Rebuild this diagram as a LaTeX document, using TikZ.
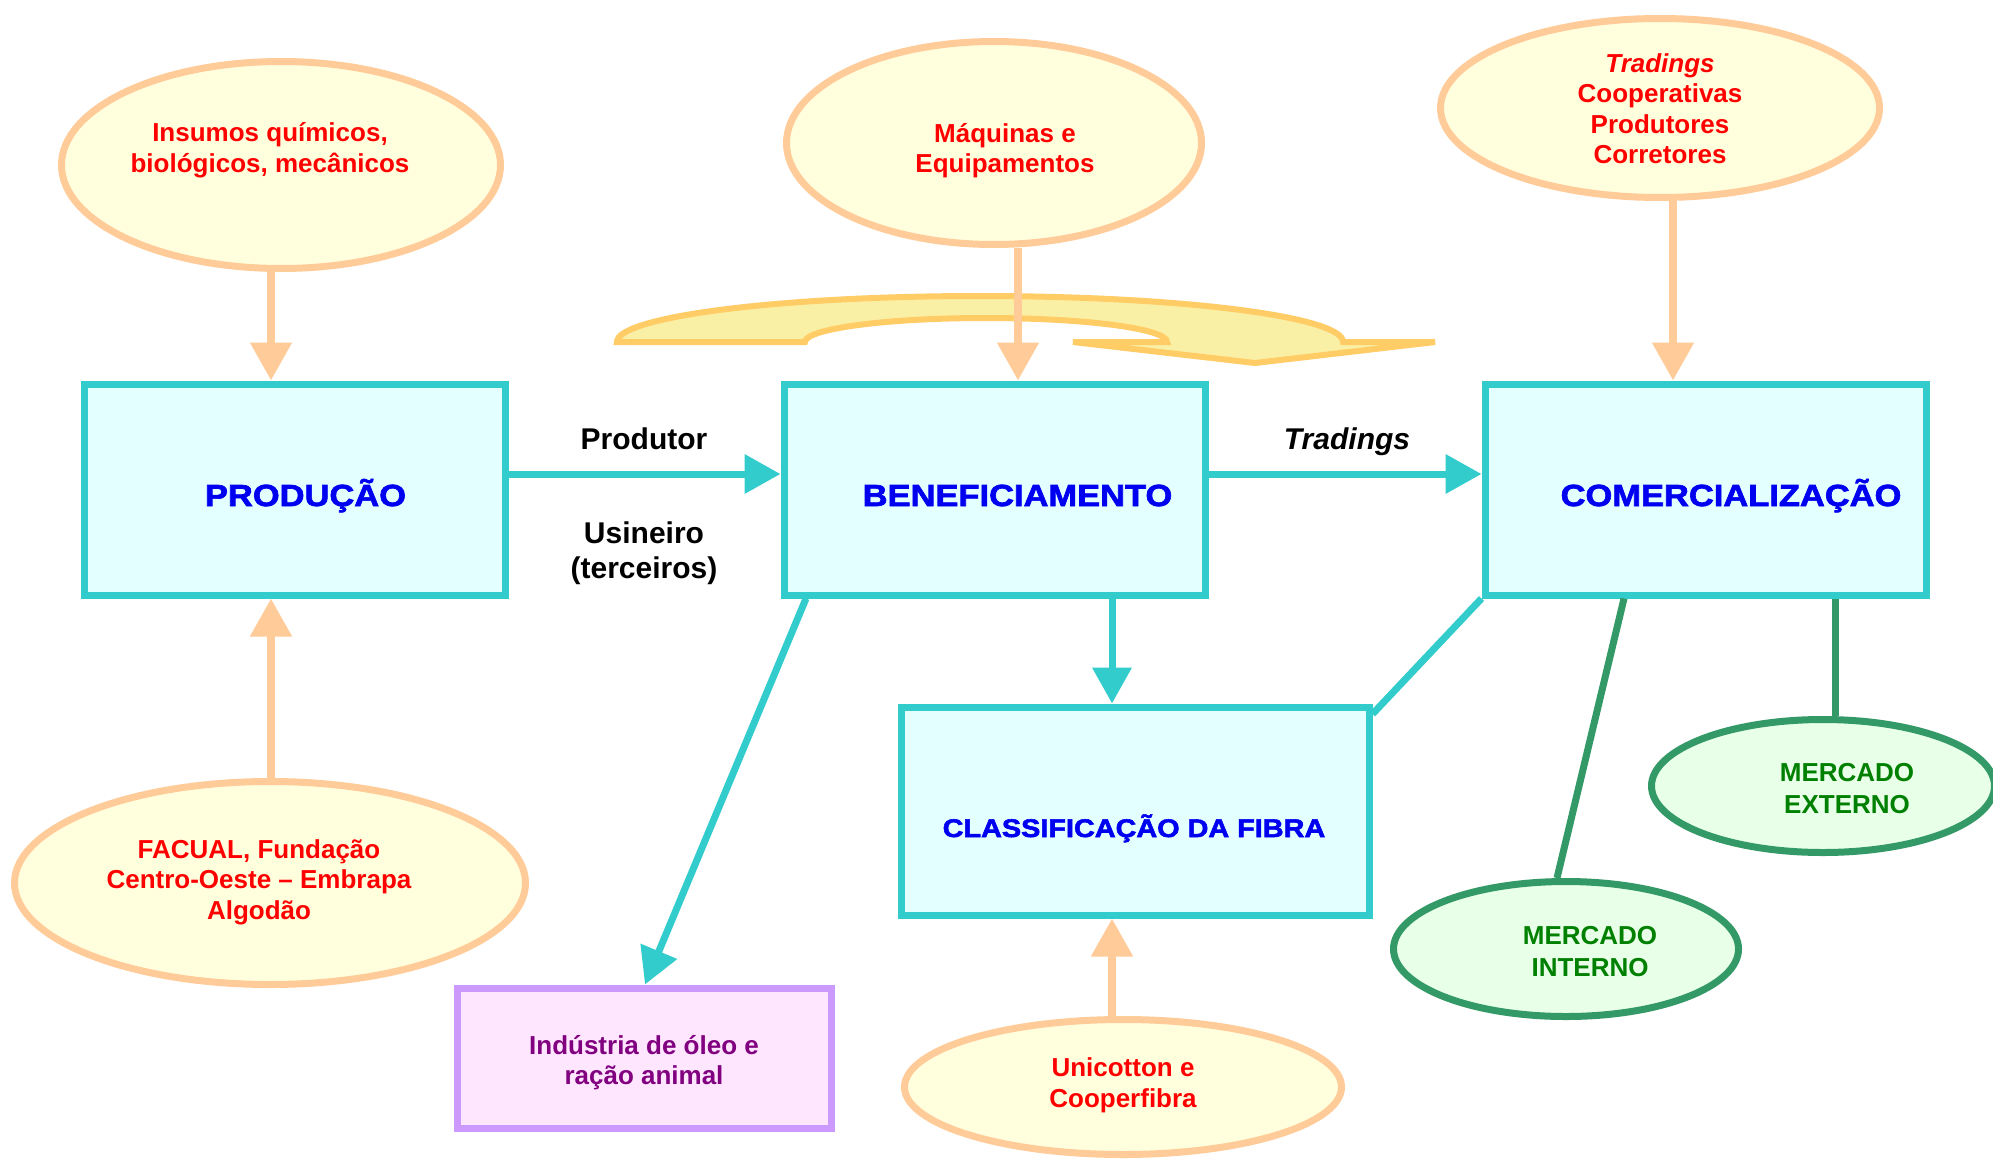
\documentclass[tikz,border=0pt]{standalone}
\usepackage{fontspec}
\setmainfont{Liberation Sans}
\newfontfamily\heavyfont{Liberation Sans}[BoldFeatures={FakeBold=2.2,FakeStretch=1.13}]
\usetikzlibrary{shapes.geometric,arrows.meta}
\definecolor{cyanC}{RGB}{51,204,204}
\definecolor{boxfill}{RGB}{228,255,255}
\definecolor{peach}{RGB}{255,204,153}
\definecolor{ovalfill}{RGB}{255,255,222}
\definecolor{greenC}{RGB}{51,153,102}
\definecolor{gfill}{RGB}{232,255,232}
\definecolor{lilac}{RGB}{204,153,255}
\definecolor{pinkfill}{RGB}{255,230,255}
\definecolor{bigfill}{RGB}{249,240,166}
\definecolor{bigdraw}{RGB}{255,204,102}
\definecolor{txtblue}{RGB}{0,0,240}
\definecolor{txtred}{RGB}{255,0,0}
\definecolor{txtgreen}{RGB}{0,128,0}
\definecolor{txtpurple}{RGB}{128,0,128}
\tikzset{
  box/.style={rectangle, draw=cyanC, fill=boxfill, line width=7pt, inner sep=0pt},
  pbox/.style={rectangle, draw=lilac, fill=pinkfill, line width=7pt, inner sep=0pt},
  oval/.style={ellipse, draw=peach, fill=ovalfill, line width=7pt, inner sep=0pt},
  goval/.style={ellipse, draw=greenC, fill=gfill, line width=7pt, inner sep=0pt},
  parrow/.style={draw=peach, line width=8pt, -{Triangle[length=38pt,width=40pt]}},
  carrow/.style={draw=cyanC, line width=7pt, -{Triangle[length=36pt,width=38pt]}},
  cline/.style={draw=cyanC, line width=7pt},
  gline/.style={draw=greenC, line width=7pt},
  bigarrow/.style={draw=bigdraw, fill=bigfill, line width=6pt, line join=miter},
  boxtxt/.style={text=txtblue, font=\fontsize{30.5}{36}\selectfont\heavyfont\bfseries, anchor=base, inner sep=0pt},
  redtxt/.style={text=txtred, font=\fontsize{26}{30.5}\selectfont\bfseries, align=center, inner sep=0pt},
  greentxt/.style={text=txtgreen, font=\fontsize{26}{32}\selectfont\bfseries, align=center, inner sep=0pt},
  blacktxt/.style={text=black, font=\fontsize{30}{35}\selectfont\bfseries, align=center, inner sep=0pt},
}
\begin{document}
\begin{tikzpicture}[x=1pt,y=-1pt]
\useasboundingbox (0,0) rectangle (1993,1159);
\fill[white] (0,0) rectangle (1993,1159);

% big curved arrow
\draw[bigarrow] (617,342) -- (805,342)
  arc[start angle=180, end angle=360, x radius=181, y radius=24]
  -- (1073,342) -- (1255,363) -- (1435,342) -- (1343,342)
  arc[start angle=360, end angle=180, x radius=363, y radius=46] -- cycle;

% boxes
\node[box, minimum width=421pt, minimum height=211pt] (prod) at (294.5,489.5) {};
\node[box, minimum width=421pt, minimum height=211pt] (benef) at (994.5,489.5) {};
\node[box, minimum width=441pt, minimum height=211pt] (comerc) at (1705.5,489.5) {};
\node[box, minimum width=468pt, minimum height=208pt] (classif) at (1135,811) {};
\node[pbox, minimum width=374pt, minimum height=140pt] (ind) at (644,1058) {};

% ellipses
\node[oval, minimum width=439pt, minimum height=207pt] (e1) at (281,165) {};
\node[oval, minimum width=415pt, minimum height=203pt] (e2) at (994,143) {};
\node[oval, minimum width=439pt, minimum height=179pt] (e3) at (1660,108) {};
\node[oval, minimum width=511pt, minimum height=203pt] (e4) at (270,883) {};
\node[oval, minimum width=437pt, minimum height=135pt] (e5) at (1123,1087) {};
\node[goval, minimum width=343pt, minimum height=133pt] (e6) at (1823,786) {};
\node[goval, minimum width=345pt, minimum height=135pt] (e7) at (1566,949) {};

% helper coordinates
\coordinate (xa) at (271,0);
\coordinate (xc) at (1018,0);
\coordinate (xd) at (1673,0);
\coordinate (xe) at (1112,0);
\coordinate (xi) at (806,0);
\coordinate (xi2) at (645,0);
\coordinate (xk) at (1624,0);
\coordinate (xk2) at (1557,0);
\coordinate (xl) at (1835,0);
\coordinate (yf) at (0,474);
\coordinate (yj) at (0,714);

% peach arrows
\draw[parrow] (e1.south -| xa) -- (prod.north -| xa);
\draw[parrow] (e4.north -| xa) -- (prod.south -| xa);
\draw[parrow] (e2.south -| xc) -- (benef.north -| xc);
\draw[parrow] (e3.south -| xd) -- (comerc.north -| xd);
\draw[parrow] (e5.north -| xe) -- (classif.south -| xe);

% cyan arrows
\draw[carrow] (prod.east |- yf) -- (benef.west |- yf);
\draw[carrow] (benef.east |- yf) -- (comerc.west |- yf);
\draw[carrow] (benef.south -| xe) -- (classif.north -| xe);
\draw[carrow] (benef.south -| xi) -- (ind.north -| xi2);
\draw[cline] (comerc.south west) -- (classif.east |- yj);

% green lines
\draw[gline] (comerc.south -| xk) -- (e7.north -| xk2);
\draw[gline] (comerc.south -| xl) -- (e6.north -| xl);

% texts
\node[boxtxt] (tprod) at (305.5,506) {PRODUÇÃO};
\node[boxtxt] (tbenef) at (1017.5,506) {BENEFICIAMENTO};
\node[boxtxt] (tcomerc) at (1731,506) {COMERCIALIZAÇÃO};
\node[boxtxt, font=\fontsize{25.5}{30}\selectfont\heavyfont\bfseries] (tclassif) at (1134,837) {CLASSIFICAÇÃO DA FIBRA};
\node[redtxt, text=txtpurple] (tind) at (644,1062.5) {Indústria de óleo e\\ração animal};

\node[redtxt] (te1) at (270,150) {Insumos químicos,\\biológicos, mecânicos};
\node[redtxt] (te2) at (1005,150.5) {Máquinas e\\Equipamentos};
\node[redtxt] (te3) at (1660,108.5) {\itshape Tradings\\Cooperativas\\Produtores\\Corretores};
\node[redtxt] (te4) at (259,882) {FACUAL, Fundação\\Centro-Oeste – Embrapa\\Algodão};
\node[redtxt] (te5) at (1123,1085.5) {Unicotton e\\Cooperfibra};
\node[greentxt] (te6) at (1847,788.5) {MERCADO\\EXTERNO};
\node[greentxt] (te7) at (1590,951.5) {MERCADO\\INTERNO};

\node[blacktxt, anchor=base] (tprodutor) at (644,449) {Produtor};
\node[blacktxt] (tusin) at (644,553.5) {Usineiro\\(terceiros)};
\node[blacktxt, anchor=base, font=\fontsize{30}{35}\selectfont\bfseries\itshape] (ttrad) at (1347,449) {Tradings};
\end{tikzpicture}
\end{document}
